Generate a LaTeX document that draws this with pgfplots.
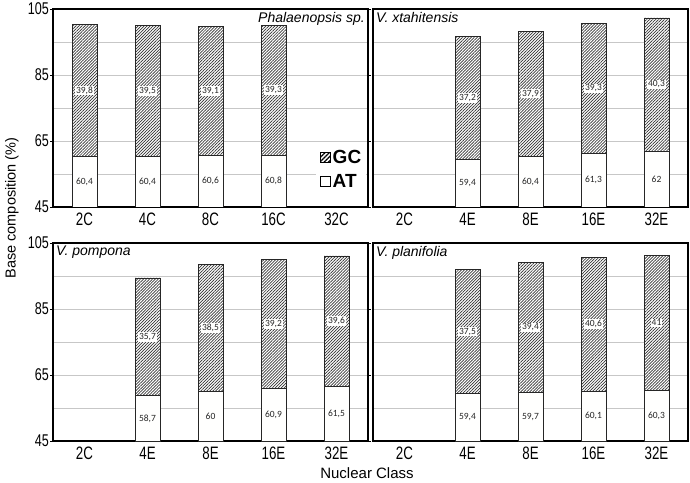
\documentclass[border=0pt]{standalone}
\usepackage{pgfplots}
\pgfplotsset{compat=1.18}
\usepackage{pgfplotstable}
\usetikzlibrary{patterns.meta}
\usepackage{fontspec}
\setmainfont{Liberation Sans}
\newfontfamily\narrowfont[FakeStretch=0.74]{Liberation Sans}
\newfontfamily\calfont{Carlito}
\definecolor{offwhite}{RGB}{255,255,254}

\pgfplotstableread{
x at gc
0 60.4 39.8
1 60.4 39.5
2 60.6 39.1
3 60.8 39.3
}\phal
\pgfplotstableread{
x at gc
1 59.4 37.2
2 60.4 37.9
3 61.3 39.3
4 62 40.3
}\xtah
\pgfplotstableread{
x at gc
1 58.7 35.7
2 60 38.5
3 60.9 39.2
4 61.5 39.6
}\pomp
\pgfplotstableread{
x at gc
1 59.4 37.5
2 59.7 39.4
3 60.1 40.6
4 60.3 41
}\plan

\tikzset{ptitle/.style={font=\itshape\fontsize{14}{16}\selectfont, inner sep=3pt}}

\pgfplotsset{
 panelbase/.style={
  scale only axis, width=315pt, height=198pt,
  xmin=-0.5, xmax=4.5, ymin=45, ymax=105,
  /pgf/number format/assume math mode=true,
 },
 panel/.style={panelbase,
  xtick={0,1,2,3,4}, ytick={45,65,85,105}, minor ytick={55,75,95},
  ymajorgrids, yminorgrids,
  major grid style={draw=black!22, line width=0.6pt},
  minor grid style={draw=black!22, line width=0.6pt},
  axis line style={line width=1.5pt},
  x tick style={draw=none},
  y tick style={black, line width=0.8pt},
  tick align=outside, major tick length=3pt, minor tick length=0pt,
  yticklabel style={font=\narrowfont\fontsize{17}{18}\selectfont, inner sep=1pt},
  xticklabel style={font=\narrowfont\fontsize{18}{19}\selectfont, inner sep=2.5pt},
 },
 labelpanel/.style={panelbase, hide axis},
 rightpanel/.style={yticklabels={}, y tick style={draw=none}},
 gcbg/.style={ybar, bar width=25pt, bar shift=0pt, fill=white, draw=none, forget plot},
 gcbar/.style={ybar, bar width=25pt, bar shift=0pt, draw=black!85, line width=0.7pt,
   pattern={Lines[angle=45,distance=2.1pt,line width=0.7pt]}, pattern color=black!80,
   legend image code/.code={\fill[white] (0pt,-5pt) rectangle (10pt,5pt);
     \draw[draw=black, line width=0.9pt, pattern={Lines[angle=45,distance=3pt,line width=1.3pt]}, pattern color=black] (0pt,-5pt) rectangle (10pt,5pt);}},
 atbar/.style={ybar, bar width=25pt, bar shift=0pt, fill=offwhite, draw=black!85, line width=0.7pt,
   legend image code/.code={\draw[fill=offwhite, draw=black, line width=0.9pt] (0pt,-5pt) rectangle (10pt,5pt);}},
 gclab/.style={color=black!85, draw=none, mark=none, forget plot,
   nodes near coords={\pgfmathprintnumber[use comma]{\pgfplotspointmeta}},
   every node near coord/.append style={anchor=center, font=\calfont\fontsize{9.5}{10}\selectfont, fill=offwhite, inner sep=1pt, text=black!85}},
 atlab/.style={draw=none, mark=none, forget plot,
   nodes near coords={\pgfmathprintnumber[use comma]{\pgfplotspointmeta}},
   every node near coord/.append style={anchor=center, font=\calfont\fontsize{9.5}{10}\selectfont, inner sep=1pt, text=black!85}},
}

\newcommand{\barsonly}[1]{%
  \addplot[gcbg] table[x=x, y expr={\thisrow{at}+\thisrow{gc}}] {#1};
  \addplot[gcbar] table[x=x, y expr={\thisrow{at}+\thisrow{gc}}] {#1};
}
\newcommand{\atbars}[1]{%
  \addplot[atbar] table[x=x, y=at] {#1};
}
\newcommand{\labels}[1]{%
  \addplot[gclab, point meta={\thisrow{gc}}] table[x=x, y expr={\thisrow{at}+\thisrow{gc}/2}] {#1};
  \addplot[atlab, point meta={\thisrow{at}}] table[x=x, y expr={(45+\thisrow{at})/2}] {#1};
}

\begin{document}
\begin{tikzpicture}[x=1pt,y=1pt]
\path[use as bounding box] (0,0) rectangle (690,482);

% top left
\begin{axis}[panel, at={(53pt,275pt)}, anchor=south west,
  xticklabels={2C,4C,8C,16C,32C},
  legend style={at={(0.995,0.315)}, anchor=north east, draw=none, fill=white,
    font=\bfseries\fontsize{19}{21}\selectfont, row sep=6pt, inner sep=3pt,
    /tikz/every even column/.append style={column sep=2pt}},
  legend cell align=left]
  \barsonly{\phal}
  \addlegendentry{GC}
  \atbars{\phal}
  \addlegendentry{AT}
  \node[ptitle, anchor=north east] at (rel axis cs:1,1) {Phalaenopsis sp.};
\end{axis}

% top right
\begin{axis}[panel, rightpanel, at={(373pt,275pt)}, anchor=south west,
  xticklabels={2C,4E,8E,16E,32E}]
  \barsonly{\xtah}\atbars{\xtah}
  \node[ptitle, anchor=north west] at (rel axis cs:0,1) {V. xtahitensis};
\end{axis}

% bottom left
\begin{axis}[panel, at={(53pt,41pt)}, anchor=south west,
  xticklabels={2C,4E,8E,16E,32E}]
  \barsonly{\pomp}\atbars{\pomp}
  \node[ptitle, anchor=north west] at (rel axis cs:0,1) {V. pompona};
\end{axis}

% bottom right
\begin{axis}[panel, rightpanel, at={(373pt,41pt)}, anchor=south west,
  xticklabels={2C,4E,8E,16E,32E}]
  \barsonly{\plan}\atbars{\plan}
  \node[ptitle, anchor=north west] at (rel axis cs:0,1) {V. planifolia};
\end{axis}

% value labels, drawn on top
\begin{axis}[labelpanel, at={(53pt,275pt)}, anchor=south west]
  \labels{\phal}
\end{axis}
\begin{axis}[labelpanel, at={(373pt,275pt)}, anchor=south west]
  \labels{\xtah}
\end{axis}
\begin{axis}[labelpanel, at={(53pt,41pt)}, anchor=south west]
  \labels{\pomp}
\end{axis}
\begin{axis}[labelpanel, at={(373pt,41pt)}, anchor=south west]
  \labels{\plan}
\end{axis}

\node[rotate=90, font=\fontsize{14.5}{16}\selectfont] at (12,274) {Base composition (\%)};
\node[font=\fontsize{15}{17}\selectfont] at (367,9) {Nuclear Class};
\end{tikzpicture}
\end{document}
